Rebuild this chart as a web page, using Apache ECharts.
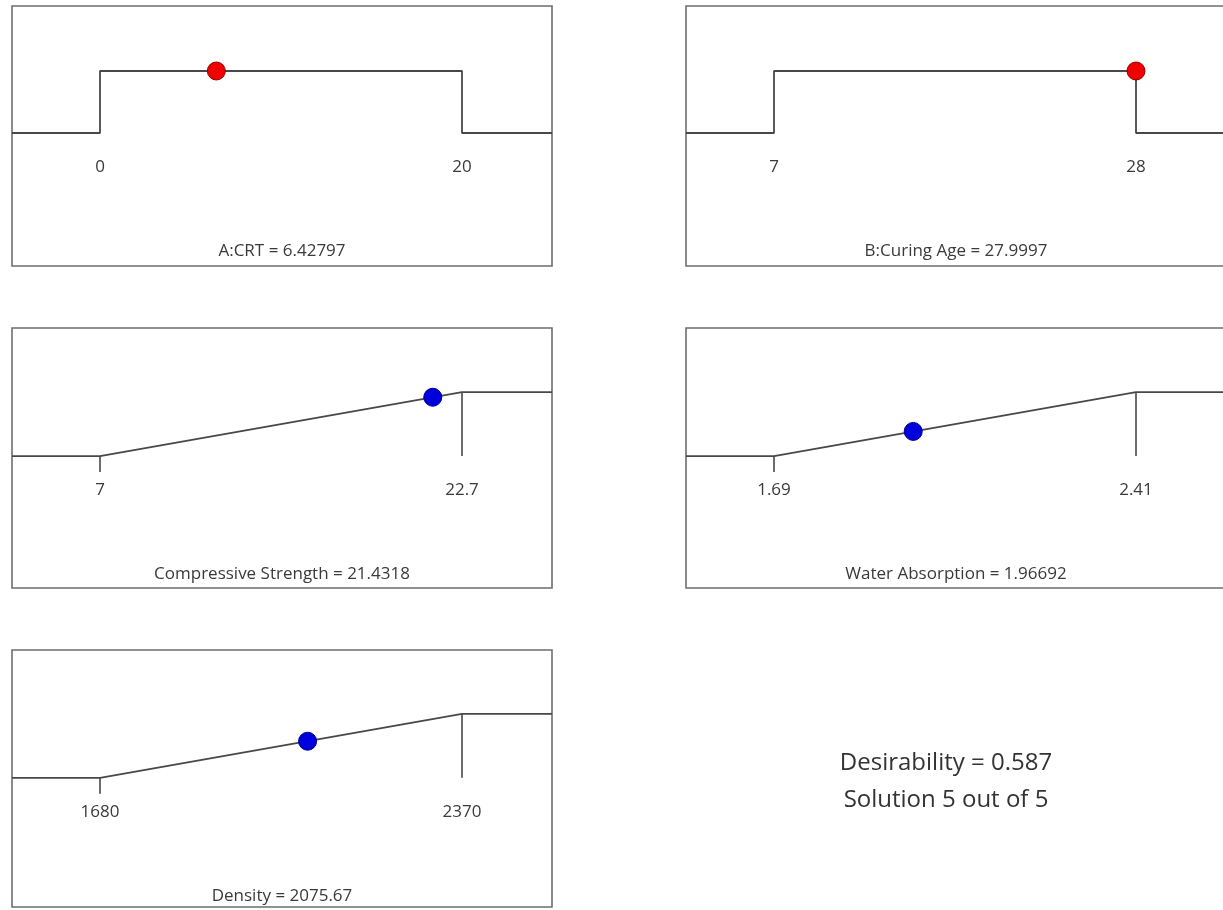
<!DOCTYPE html>
<html>
<head>
<meta charset="utf-8">
<script src="https://cdn.jsdelivr.net/npm/echarts@6/dist/echarts.min.js"></script>
<style>
html,body{margin:0;padding:0;background:#fff;}
#chart{width:1223px;height:910px;}
</style>
</head>
<body>
<div id="chart"></div>
<script>
// ---- data ----
const factorNames = ['A:CRT', 'B:Curing Age'];
const factorLow = [0, 7];
const factorHigh = [20, 28];
const factorValue = [6.42797, 27.9997];
const factorDesirability = [1, 1];

const responseNames = ['Compressive Strength', 'Water Absorption', 'Density'];
const responseLow = [7, 1.69, 1680];
const responseHigh = [22.7, 2.41, 2370];
const responseValue = [21.4318, 1.96692, 2075.67];
const responseDesirability = [0.919, 0.385, 0.573];

const desirabilityLabel = 'Desirability = 0.587';
const solutionLabel = 'Solution 5 out of 5';

// ---- layout ----
const FONT = 'Open Sans';
const panels = [
  {kind: 'f', i: 0, left: 12, top: 6, h: 260, yMin: -2.145, yMax: 2.048},
  {kind: 'f', i: 1, left: 686, top: 6, h: 260, yMin: -2.145, yMax: 2.048},
  {kind: 'r', i: 0, left: 12, top: 328, h: 260, yMin: -2.06, yMax: 2.0},
  {kind: 'r', i: 1, left: 686, top: 328, h: 260, yMin: -2.06, yMax: 2.0},
  {kind: 'r', i: 2, left: 12, top: 650, h: 257, yMin: -2.02, yMax: 2.0}
];
const W = 540, PAD_L = 88, SPAN = 362;

const grids = [], xAxes = [], yAxes = [], series = [];
const lineColor = '#484848';

function fmt(v) { return String(v); }

panels.forEach((p, k) => {
  const isF = p.kind === 'f';
  const low = isF ? factorLow[p.i] : responseLow[p.i];
  const high = isF ? factorHigh[p.i] : responseHigh[p.i];
  const val = isF ? factorValue[p.i] : responseValue[p.i];
  const des = isF ? factorDesirability[p.i] : responseDesirability[p.i];
  const name = isF ? factorNames[p.i] : responseNames[p.i];
  const r = high - low;
  const xMin = low - PAD_L / SPAN * r;
  const xMax = low + (W - PAD_L) / SPAN * r;
  const zeroOffset = -p.h * (0 - p.yMin) / (p.yMax - p.yMin);

  grids.push({left: p.left, top: p.top, width: W, height: p.h, show: true,
    borderColor: '#6e6e6e', borderWidth: 1.6, backgroundColor: '#fff',
    outerBoundsMode: 'none', containLabel: false});
  xAxes.push({
    type: 'value', gridIndex: k, min: xMin, max: xMax,
    position: 'bottom', offset: zeroOffset,
    axisLine: {show: false, onZero: false},
    splitLine: {show: false},
    axisTick: isF ? {show: false} : {show: true, customValues: [low], length: 16, inside: false,
      lineStyle: {color: lineColor, width: 1.6}},
    axisLabel: {customValues: [low, high], margin: 26, color: '#3a3a3a', fontFamily: FONT, fontSize: 17,
      formatter: v => fmt(v)},
    name: name + ' = ' + fmt(val), nameLocation: 'middle', nameGap: 110, nameMoveOverlap: false,
    nameTextStyle: {color: '#3a3a3a', fontFamily: FONT, fontSize: 17}
  });
  yAxes.push({type: 'value', gridIndex: k, min: p.yMin, max: p.yMax, show: false,
    axisLine: {onZero: false}});

  let curve;
  if (isF) {
    curve = [[xMin, 0], [low, 0], [low, 1], [high, 1], [high, 0], [xMax, 0]];
  } else {
    curve = [[xMin, 0], [low, 0], [high, 1], [xMax, 1]];
    series.push({type: 'line', xAxisIndex: k, yAxisIndex: k, data: [[high, 1], [high, 0]],
      symbol: 'none', lineStyle: {color: lineColor, width: 1.6}, silent: true, animation: false});
  }
  series.push({type: 'line', xAxisIndex: k, yAxisIndex: k, data: curve, symbol: 'none',
    lineStyle: {color: lineColor, width: 1.8}, silent: true, animation: false});
  series.push({type: 'scatter', xAxisIndex: k, yAxisIndex: k, data: [[val, des]],
    symbolSize: 18, z: 5,
    itemStyle: {color: isF ? '#f00000' : '#0000dd', borderColor: isF ? '#900000' : '#000088', borderWidth: 1, opacity: 1},
    animation: false});
});

const chart = echarts.init(document.getElementById('chart'));
chart.setOption({
  animation: false,
  grid: grids, xAxis: xAxes, yAxis: yAxes, series: series,
  graphic: [
    {type: 'text', x: 946, y: 763, style: {text: desirabilityLabel, fill: '#333', font: '24px "Open Sans"', align: 'center', verticalAlign: 'middle'}},
    {type: 'text', x: 946, y: 800, style: {text: solutionLabel, fill: '#333', font: '24px "Open Sans"', align: 'center', verticalAlign: 'middle'}}
  ]
});
</script>
</body>
</html>
